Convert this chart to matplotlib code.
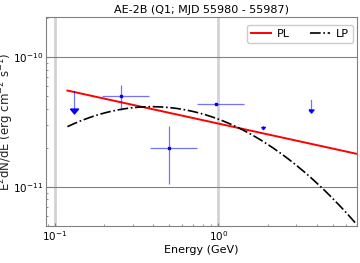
import matplotlib
matplotlib.use("Agg")
import matplotlib.pyplot as plt
import numpy as np

# flux points (GeV, erg cm^-2 s^-1)
pt_E = [0.255, 0.497, 0.97]
pt_Elo = [0.195, 0.381, 0.741]
pt_Ehi = [0.378, 0.741, 1.43]
pt_F = [5.04e-11, 2.0e-11, 4.35e-11]
pt_Flo = [3.91e-11, 1.05e-11, 4.35e-11]
pt_Fhi = [6.09e-11, 2.95e-11, 4.35e-11]

# upper limits
ul_E = [0.130, 1.88, 3.69]
ul_F = [5.5e-11, 2.95e-11, 4.67e-11]
ul_len = [0.30, 0.04, 0.18]     # arrow length, fraction of the value
ul_head = [5.8, 2.6, 3.6]       # arrow head width, points

# model parameters (E0 = 1 GeV)
pl_norm = 3.07e-11
pl_index = 2.275
lp_norm = 3.32e-11
lp_alpha = 2.47
lp_beta = 0.25
E_min, E_max = 0.119, 7.05

fig = plt.figure(figsize=(3.6, 2.63), dpi=100)
ax = fig.add_axes([0.1278, 0.1407, 0.8639, 0.7947])

E = np.logspace(np.log10(E_min), np.log10(E_max), 200)
pl = pl_norm * E ** (2 - pl_index)
lp = lp_norm * E ** (2 - lp_alpha - lp_beta * np.log(E))
ax.plot(E, pl, color="red", lw=1.4, label="PL")
ax.plot(E, lp, color="black", lw=1.2, ls="-.", label="LP")

pt_E = np.array(pt_E)
pt_F = np.array(pt_F)
xerr = [pt_E - np.array(pt_Elo), np.array(pt_Ehi) - pt_E]
yerr = [pt_F - np.array(pt_Flo), np.array(pt_Fhi) - pt_F]
ax.errorbar(pt_E, pt_F, xerr=xerr, yerr=yerr, fmt="none", ecolor="blue",
            alpha=0.55, lw=0.9)
ax.plot(pt_E, pt_F, "s", color="blue", ms=2)

# wide, flat arrow head
head = [(-1, 0.6), (1, 0.6), (0, -0.6), (-1, 0.6)]
for e, f, l, s in zip(ul_E, ul_F, ul_len, ul_head):
    ax.plot([e, e], [f, f * (1 - l)], color="blue", alpha=0.55, lw=0.9)
    ax.plot(e, f * (1 - l), marker=head, color="blue", ms=s, ls="none")

ax.set_xscale("log")
ax.set_yscale("log")
ax.set_xlim(0.088, 7.05)
ax.set_ylim(5.0e-12, 2.03e-10)

ax.grid(True, axis="x", which="major", color="lightgray", lw=2)
ax.grid(True, axis="y", which="major", color="gray", lw=0.8)
ax.set_axisbelow(True)
for sp in ax.spines.values():
    sp.set_color("gray")
ax.tick_params(which="both", direction="in", colors="gray", labelcolor="black",
               labelsize=7.5, pad=2)
ax.tick_params(which="major", length=2)
ax.tick_params(which="minor", length=1.5)

ax.set_title("AE-2B (Q1; MJD 55980 - 55987)", fontsize=8, pad=3)
ax.set_xlabel("Energy (GeV)", fontsize=8, labelpad=2)
fig.text(0.017, 0.538, r"E$^2$dN/dE (erg cm$^{-2}$ s$^{-1}$)", fontsize=8.5,
         color="#222222", rotation=90, ha="center", va="center")
ax.legend(loc="upper right", bbox_to_anchor=(0.987, 0.962), borderaxespad=0,
          ncol=2, fontsize=8, handlelength=1.8, handletextpad=0.55,
          columnspacing=1.8, borderpad=0.35, framealpha=1)

fig.savefig("out.png", dpi=100)
